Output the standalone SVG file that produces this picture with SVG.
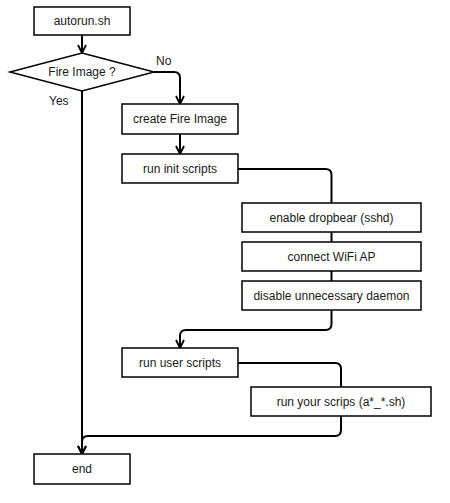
<svg xmlns="http://www.w3.org/2000/svg" width="450" height="503" viewBox="0 0 450 503">
<defs>
<style>
.box{fill:#ffffff;stroke:#000000;stroke-width:1.5}
.t{font-family:"Liberation Sans",Arial,sans-serif;font-size:12px;fill:#1a1a1a;text-anchor:middle;dominant-baseline:central}
.lbl{font-family:"Liberation Sans",Arial,sans-serif;font-size:12px;fill:#1a1a1a}
.c{fill:none;stroke:#000000;stroke-width:2}
</style>
<marker id="arr" viewBox="0 0 10 10" refX="9" refY="5" markerWidth="10" markerHeight="10" markerUnits="userSpaceOnUse" orient="auto">
<path d="M1,1 L9,5 L1,9" fill="none" stroke="#000000" stroke-width="1.8"/>
</marker>
</defs>
<rect width="450" height="503" fill="#ffffff"/>
<g id="connectors">
<path class="c" d="M82,35 V53" marker-end="url(#arr)"/>
<path class="c" d="M154,72 H174 Q180,72 180,78 V104" marker-end="url(#arr)"/>
<path class="c" d="M82,91 V454" marker-end="url(#arr)"/>
<path class="c" d="M180,134 V154" marker-end="url(#arr)"/>
<path class="c" d="M238,169 H325.5 Q331.5,169 331.5,175 V203"/>
<path class="c" d="M331.5,232 V242"/>
<path class="c" d="M331.5,271 V281"/>
<path class="c" d="M331.5,310 V324 Q331.5,330 325.5,330 H186 Q180,330 180,336 V348" marker-end="url(#arr)"/>
<path class="c" d="M238,363 H335 Q341,363 341,369 V387"/>
<path class="c" d="M341,416 V430 Q341,436 335,436 H88 Q82,436 82,442 V454" marker-end="url(#arr)"/>
</g>
<g id="autorun"><rect class="box" x="34" y="7" width="96" height="28"/><text class="t" x="82" y="21">autorun.sh</text></g>
<g id="fireimage"><path class="box" d="M82,53 L154,72 L82,91 L10,72 Z"/><text class="t" x="82" y="72">Fire Image ?</text></g>
<g id="label-no"><text class="lbl" x="156" y="65">No</text></g>
<g id="label-yes"><text class="lbl" x="49" y="105">Yes</text></g>
<g id="create"><rect class="box" x="122" y="104" width="116" height="30"/><text class="t" x="180" y="119">create Fire Image</text></g>
<g id="initscripts"><rect class="box" x="122" y="154" width="116" height="29"/><text class="t" x="180" y="168.5">run init scripts</text></g>
<g id="dropbear"><rect class="box" x="242" y="203" width="179" height="29"/><text class="t" x="331.5" y="217.5">enable dropbear (sshd)</text></g>
<g id="wifi"><rect class="box" x="242" y="242" width="179" height="29"/><text class="t" x="331.5" y="256.5">connect WiFi AP</text></g>
<g id="daemon"><rect class="box" x="242" y="281" width="179" height="29"/><text class="t" x="331.5" y="295.5">disable unnecessary daemon</text></g>
<g id="userscripts"><rect class="box" x="122" y="348" width="116" height="29"/><text class="t" x="180" y="362.5">run user scripts</text></g>
<g id="yourscrips"><rect class="box" x="251" y="387" width="180" height="29"/><text class="t" x="341" y="401.5">run your scrips (a*_*.sh)</text></g>
<g id="end"><rect class="box" x="34" y="454" width="96" height="30"/><text class="t" x="82" y="469">end</text></g>
</svg>
